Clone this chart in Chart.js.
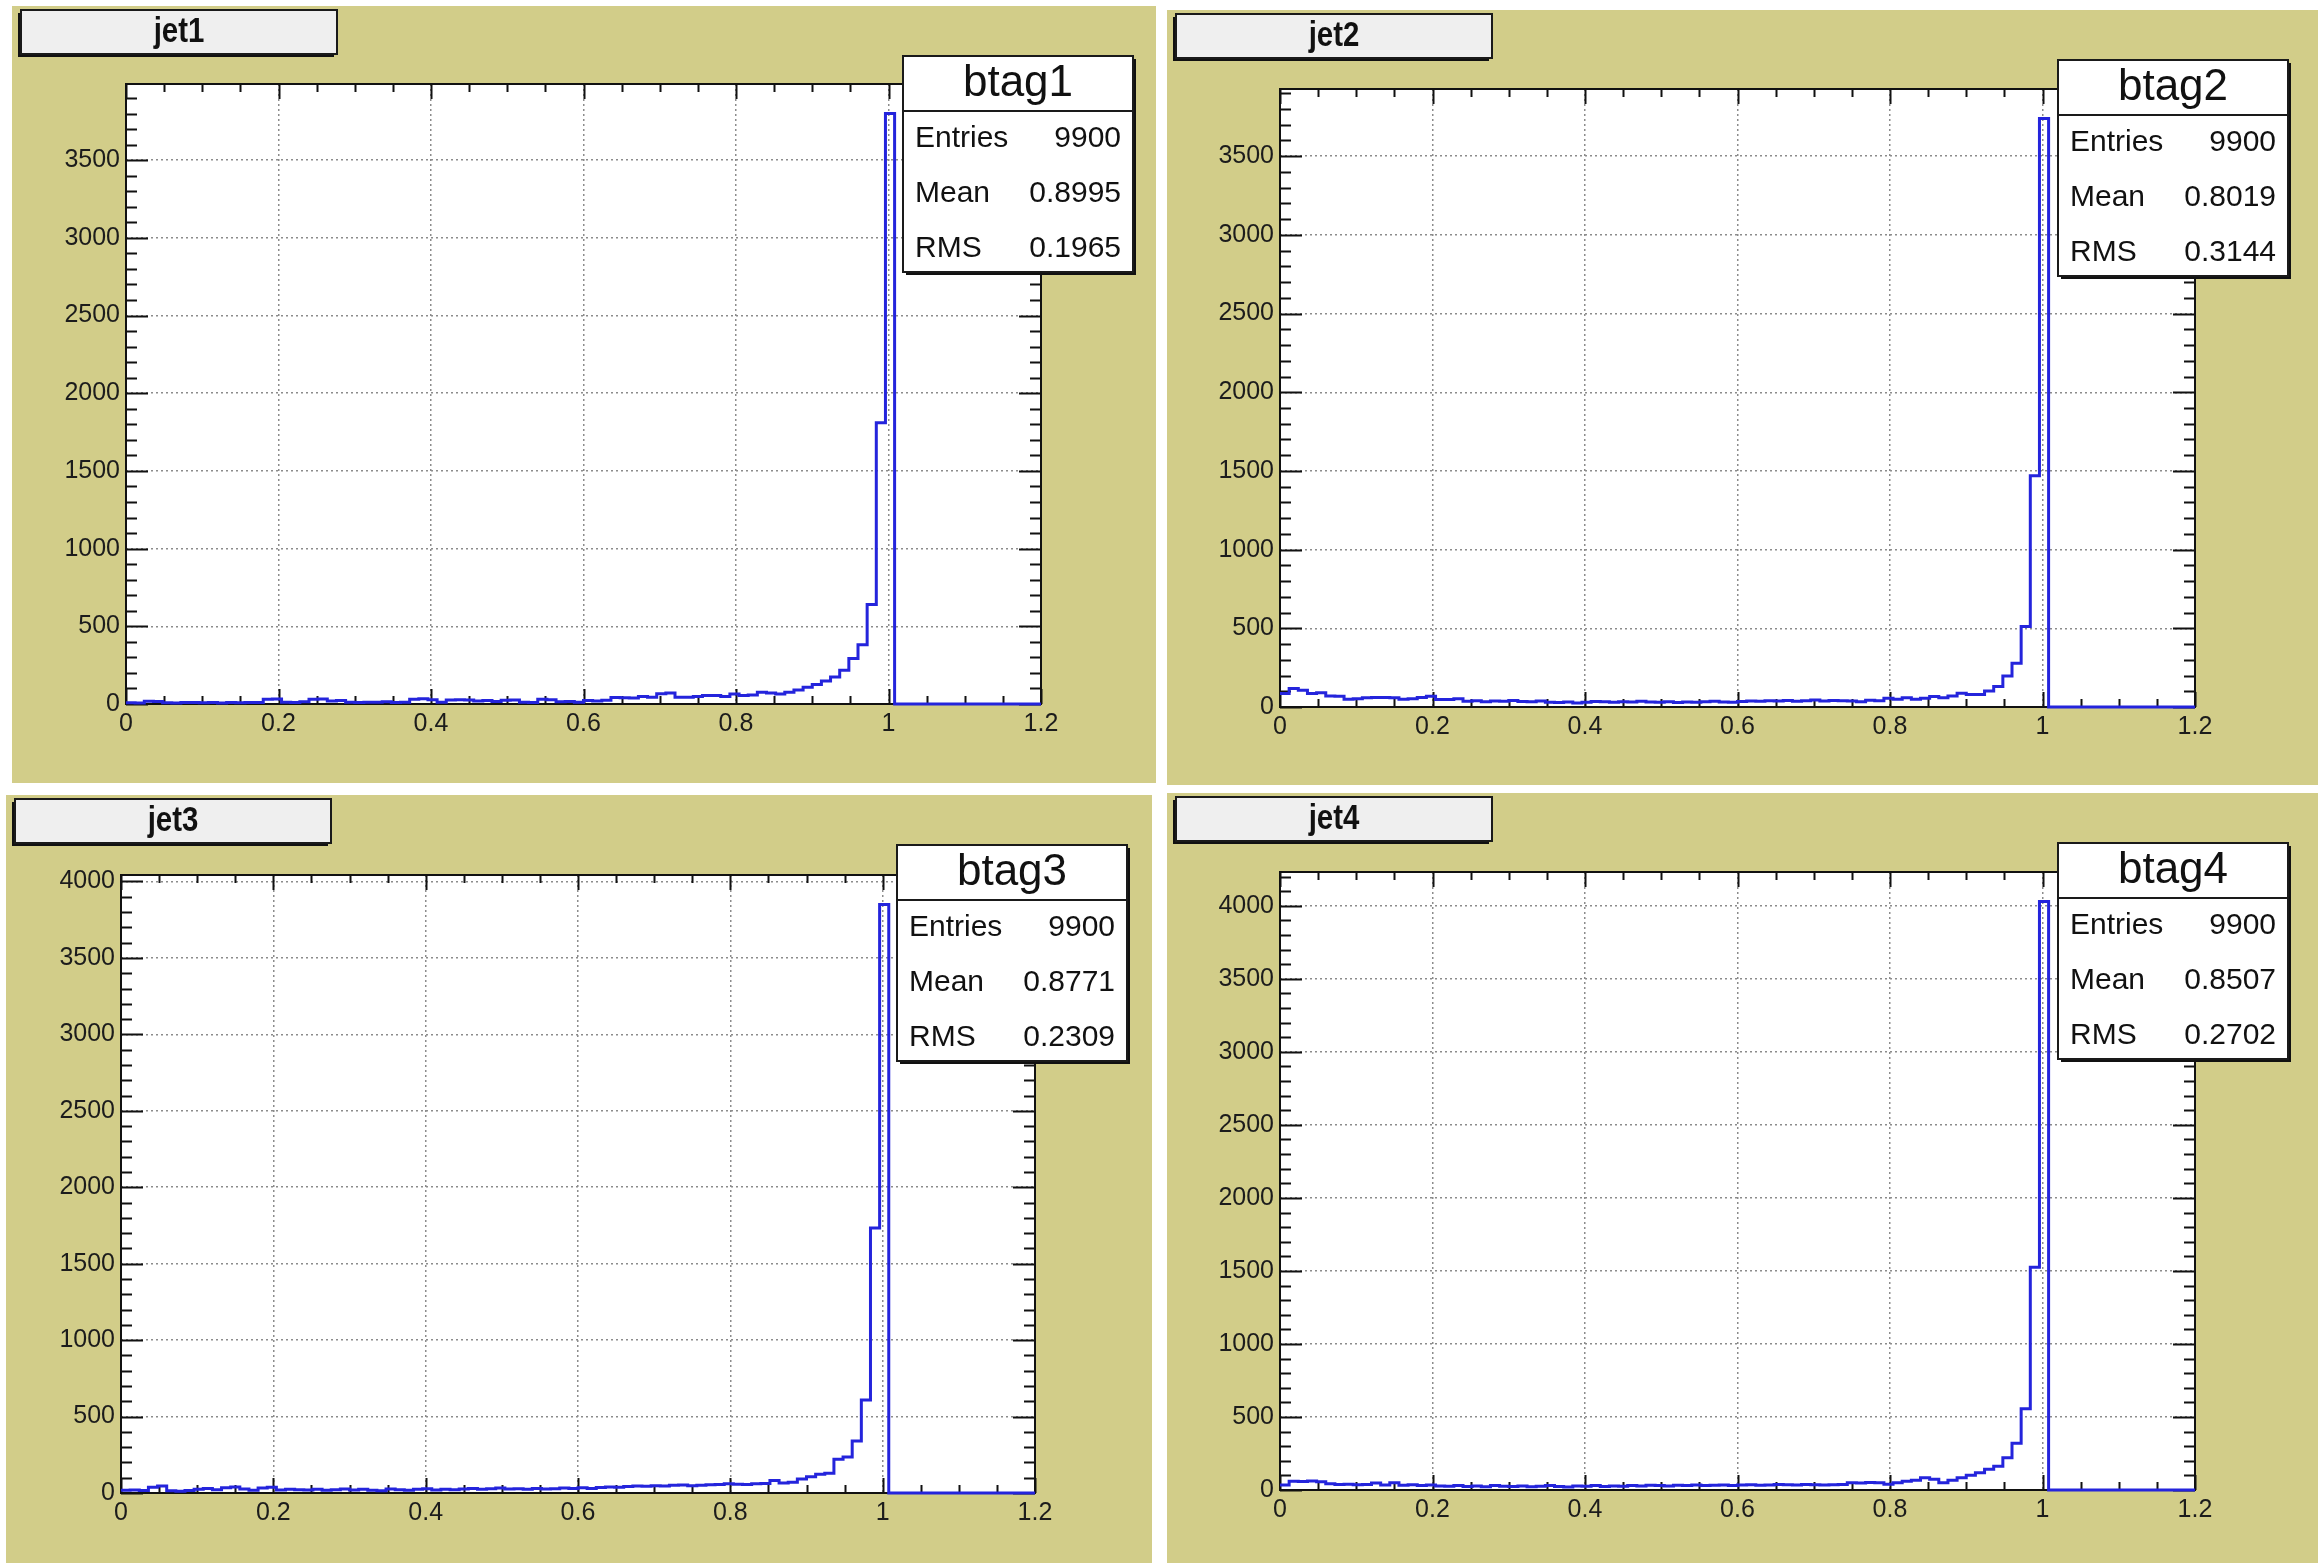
<!DOCTYPE html>
<html>
<head>
<meta charset="utf-8">
<script src="https://cdn.jsdelivr.net/npm/chart.js@4.4.1/dist/chart.umd.min.js"></script>
<style>
  html, body { margin: 0; padding: 0; background: #fff; }
  body { width: 2318px; height: 1563px; position: relative; overflow: hidden; }
  .pad { position: absolute; background: #d2cd89; }
  .pad canvas { position: absolute; left: 0; top: 0; }
</style>
</head>
<body>
<div class="pad" style="left:12px;top:6px;width:1144px;height:777px"><canvas id="c1"></canvas></div>
<div class="pad" style="left:1167px;top:10px;width:1151px;height:775px"><canvas id="c2"></canvas></div>
<div class="pad" style="left:6px;top:795px;width:1146px;height:768px"><canvas id="c3"></canvas></div>
<div class="pad" style="left:1167px;top:793px;width:1151px;height:770px"><canvas id="c4"></canvas></div>

<script>
// histogram binning (TH1F 100 bins, 0 .. 1.2)
const xLow = 0;
const xHigh = 1.2;
const nBins = 100;

const xTickValues = [0, 0.2, 0.4, 0.6, 0.8, 1, 1.2];
const yTicks3500 = [0, 500, 1000, 1500, 2000, 2500, 3000, 3500];
const yTicks4000 = [0, 500, 1000, 1500, 2000, 2500, 3000, 3500, 4000];

const padTitles = ['jet1', 'jet2', 'jet3', 'jet4'];
const histNames = ['btag1', 'btag2', 'btag3', 'btag4'];
const entries = ['9900', '9900', '9900', '9900'];
const means = ['0.8995', '0.8019', '0.8771', '0.8507'];
const rmsValues = ['0.1965', '0.3144', '0.2309', '0.2702'];

const btag1Counts = [
  8, 6, 18, 16, 8, 7, 10, 9, 8, 10,
  7, 9, 8, 10, 9, 30, 32, 12, 10, 14,
  30, 32, 20, 22, 12, 10, 12, 11, 14, 10,
  12, 30, 33, 28, 12, 26, 28, 25, 20, 22,
  16, 24, 26, 12, 10, 30, 28, 14, 16, 12,
  22, 20, 24, 42, 40, 38, 48, 43, 66, 70,
  44, 44, 48, 54, 54, 48, 64, 54, 58, 75,
  70, 65, 76, 90, 108, 126, 148, 174, 217, 293,
  382, 640, 1810, 3800, 0, 0, 0, 0, 0, 0,
  0, 0, 0, 0, 0, 0, 0, 0, 0, 0
];
const btag2Counts = [
  85, 117, 107, 85, 90, 70, 68, 49, 53, 58,
  60, 60, 58, 49, 53, 60, 68, 47, 47, 53,
  36, 40, 34, 38, 36, 42, 35, 33, 38, 30,
  28, 32, 26, 30, 35, 33, 30, 34, 31, 36,
  32, 30, 34, 28, 32, 30, 34, 36, 32, 30,
  35, 38, 36, 40, 38, 42, 36, 40, 44, 38,
  42, 40, 38, 33, 43, 40, 56, 50, 59, 50,
  56, 66, 59, 70, 88, 80, 80, 102, 131, 197,
  278, 512, 1470, 3740, 0, 0, 0, 0, 0, 0,
  0, 0, 0, 0, 0, 0, 0, 0, 0, 0
];
const btag3Counts = [
  18, 20, 16, 38, 45, 14, 12, 16, 24, 30,
  22, 34, 40, 26, 18, 32, 38, 20, 24, 22,
  20, 24, 18, 22, 26, 20, 24, 18, 14, 26,
  22, 18, 24, 28, 20, 24, 22, 26, 30, 24,
  28, 32, 26, 28, 24, 30, 26, 28, 32, 30,
  34, 30, 36, 40, 38, 42, 46, 44, 48, 46,
  50, 52, 48, 50, 54, 56, 60, 58, 56, 60,
  62, 81, 65, 71, 91, 107, 123, 130, 220, 236,
  340, 609, 1733, 3850, 0, 0, 0, 0, 0, 0,
  0, 0, 0, 0, 0, 0, 0, 0, 0, 0
];
const btag4Counts = [
  34, 60, 58, 62, 56, 42, 38, 40, 36, 38,
  48, 34, 50, 32, 36, 30, 34, 28, 26, 30,
  24, 28, 22, 30, 26, 24, 28, 22, 26, 30,
  24, 20, 28, 26, 30, 24, 28, 26, 30, 28,
  32, 30, 28, 32, 30, 34, 30, 32, 34, 30,
  34, 36, 32, 34, 38, 36, 34, 38, 36, 34,
  36, 38, 50, 48, 52, 50, 40, 50, 60, 67,
  84, 74, 50, 67, 84, 101, 118, 142, 162, 220,
  320, 557, 1525, 4030, 0, 0, 0, 0, 0, 0,
  0, 0, 0, 0, 0, 0, 0, 0, 0, 0
];

// pad geometry (pixels inside each pad canvas)
const padBoxes = [
  { id: 'c1', w: 1144, h: 777, L: 114, R: 1029, T: 78, B: 698 },
  { id: 'c2', w: 1151, h: 775, L: 113, R: 1028, T: 79, B: 697 },
  { id: 'c3', w: 1146, h: 768, L: 115, R: 1029, T: 80, B: 698 },
  { id: 'c4', w: 1151, h: 770, L: 113, R: 1028, T: 79, B: 697 }
];

const FONT = "'Liberation Sans', Arial, Helvetica, sans-serif";
const X_AXIS_H = 44;

// points at lower bin edges, plus closing point at the upper edge
function histPoints(counts) {
  const w = (xHigh - xLow) / nBins;
  const pts = counts.map((c, i) => ({ x: xLow + i * w, y: c }));
  pts.push({ x: xHigh, y: counts[counts.length - 1] });
  return pts;
}

function drawBox(ctx, x, y, w, h, fill, shadowDx) {
  ctx.save();
  ctx.fillStyle = '#111';
  ctx.fillRect(x + shadowDx, y + 3, w, h);
  ctx.fillStyle = fill;
  ctx.fillRect(x, y, w, h);
  ctx.lineWidth = 2;
  ctx.strokeStyle = '#1a1a1a';
  ctx.strokeRect(x, y, w, h);
  ctx.restore();
}

const rootPadPlugin = {
  id: 'rootPad',
  beforeDraw(chart) {
    const a = chart.chartArea;
    const ctx = chart.ctx;
    ctx.save();
    ctx.fillStyle = '#ffffff';
    ctx.fillRect(a.left, a.top, a.right - a.left, a.bottom - a.top);
    ctx.restore();
  },
  beforeDatasetsDraw(chart) {
    const a = chart.chartArea;
    const ctx = chart.ctx;
    const xs = chart.scales.x;
    const ys = chart.scales.y;
    ctx.save();
    ctx.strokeStyle = '#111';
    ctx.lineWidth = 2;
    ctx.beginPath();
    // x ticks: major 0.2, minor 0.05
    for (let k = 0; k <= 24; k++) {
      const px = Math.round(xs.getPixelForValue(k * 0.05)) + 0.5;
      const len = (k % 4 === 0) ? 15 : 8;
      ctx.moveTo(px, a.bottom); ctx.lineTo(px, a.bottom - len);
      ctx.moveTo(px, a.top); ctx.lineTo(px, a.top + len);
    }
    // y ticks: major 500, minor 100
    for (let v = 0; v <= ys.max; v += 100) {
      const py = Math.round(ys.getPixelForValue(v)) + 0.5;
      const len = (v % 500 === 0) ? 22 : 11;
      ctx.moveTo(a.left, py); ctx.lineTo(a.left + len, py);
      ctx.moveTo(a.right, py); ctx.lineTo(a.right - len, py);
    }
    ctx.stroke();
    ctx.strokeRect(a.left, a.top, a.right - a.left, a.bottom - a.top);
    ctx.restore();
  },
  afterDraw(chart, args, opts) {
    const ctx = chart.ctx;
    // title pave (shadow bottom-left)
    drawBox(ctx, 9, 4, 316, 44, '#efefef', -3);
    ctx.save();
    ctx.fillStyle = '#111';
    ctx.font = 'bold 35px ' + FONT;
    ctx.textAlign = 'center';
    ctx.textBaseline = 'middle';
    ctx.translate(9 + 158, 26);
    ctx.scale(0.84, 1);
    ctx.fillText(opts.title, 0, 0);
    ctx.restore();

    // stats pave (shadow bottom-right)
    const sx = 891, sy = 50, sw = 230, sh = 216;
    drawBox(ctx, sx, sy, sw, sh, '#ffffff', 3);
    ctx.save();
    ctx.strokeStyle = '#1a1a1a';
    ctx.lineWidth = 2;
    ctx.beginPath();
    ctx.moveTo(sx, sy + 55); ctx.lineTo(sx + sw, sy + 55);
    ctx.stroke();
    ctx.fillStyle = '#111';
    ctx.textBaseline = 'middle';
    ctx.textAlign = 'center';
    ctx.font = '44px ' + FONT;
    ctx.fillText(opts.name, sx + sw / 2, sy + 28);
    ctx.font = '30px ' + FONT;
    const rows = [['Entries', opts.entries], ['Mean', opts.mean], ['RMS', opts.rms]];
    rows.forEach((r, i) => {
      const y = sy + 83 + i * 55;
      ctx.textAlign = 'left';
      ctx.fillText(r[0], sx + 12, y);
      ctx.textAlign = 'right';
      ctx.fillText(r[1], sx + sw - 12, y);
    });
    ctx.restore();
  }
};

function makePad(i, counts, yTicks) {
  const box = padBoxes[i];
  const canvas = document.getElementById(box.id);
  canvas.width = box.w;
  canvas.height = box.h;
  canvas.style.width = box.w + 'px';
  canvas.style.height = box.h + 'px';
  const tickFont = { family: FONT, size: 25 };

  new Chart(canvas, {
    type: 'line',
    data: {
      datasets: [{
        data: histPoints(counts),
        stepped: true,
        borderColor: '#2424dc',
        borderWidth: 3,
        pointRadius: 0,
        fill: false,
        clip: 4
      }]
    },
    options: {
      responsive: false,
      animation: false,
      devicePixelRatio: 1,
      layout: {
        padding: { left: 0, top: box.T, right: box.w - box.R, bottom: box.h - box.B - X_AXIS_H }
      },
      plugins: {
        legend: { display: false },
        tooltip: { enabled: false },
        rootPad: {
          title: padTitles[i],
          name: histNames[i],
          entries: entries[i],
          mean: means[i],
          rms: rmsValues[i]
        }
      },
      scales: {
        x: {
          type: 'linear',
          min: xLow,
          max: xHigh,
          afterBuildTicks: (s) => { s.ticks = xTickValues.map(v => ({ value: v })); },
          afterFit: (s) => { s.height = X_AXIS_H; },
          grid: { color: '#8c8c8c', lineWidth: 1.5, drawTicks: false },
          border: { display: false, dash: [2, 3] },
          ticks: {
            font: tickFont, color: '#1c1c1c', padding: 5,
            maxRotation: 0, autoSkip: false,
            callback: (v) => String(+Number(v).toFixed(2))
          }
        },
        y: {
          type: 'linear',
          min: 0,
          max: Math.max(...counts) * 1.05,
          afterBuildTicks: (s) => { s.ticks = yTicks.map(v => ({ value: v })); },
          afterFit: (s) => { s.width = box.L; },
          grid: { color: '#8c8c8c', lineWidth: 1.5, drawTicks: false },
          border: { display: false, dash: [2, 3] },
          ticks: {
            font: tickFont, color: '#1c1c1c', padding: 6,
            autoSkip: false,
            callback: (v) => String(v)
          }
        }
      }
    },
    plugins: [rootPadPlugin]
  });
}

makePad(0, btag1Counts, yTicks3500);
makePad(1, btag2Counts, yTicks3500);
makePad(2, btag3Counts, yTicks4000);
makePad(3, btag4Counts, yTicks4000);
</script>
</body>
</html>
